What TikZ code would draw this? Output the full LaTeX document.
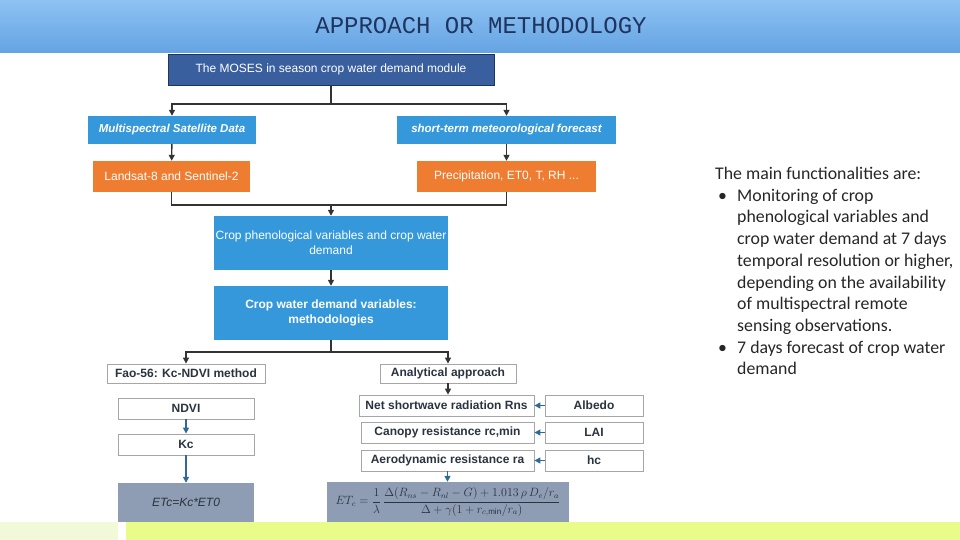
\documentclass[tikz,border=0pt]{standalone}
\usepackage{fontspec}
\setmainfont{Liberation Sans}
\newfontfamily\featfont{Carlito}
\newfontfamily\titlefont{Liberation Mono}
\usetikzlibrary{positioning,arrows.meta,calc}
\definecolor{bandtop}{HTML}{8EC2F3}
\definecolor{bandbot}{HTML}{64A3E2}
\definecolor{navy}{HTML}{3A5F9F}
\definecolor{navyline}{HTML}{1F3560}
\definecolor{skyb}{HTML}{3498DB}
\definecolor{orng}{HTML}{EE7C31}
\definecolor{slate}{HTML}{8E9CB4}
\definecolor{ink}{HTML}{2A3440}
\definecolor{wire}{HTML}{333333}
\definecolor{steel}{HTML}{2E6A95}
\definecolor{lime}{HTML}{E9FC8A}
\definecolor{palelime}{HTML}{F1F9D9}

\begin{document}
\begin{tikzpicture}[x=1pt,y=-1pt,
  blk/.style 2 args={minimum width=#1pt, minimum height=#2pt, inner sep=1pt, align=center},
  mainbox/.style={fill=navy, draw=navyline, line width=0.8pt, text=white, font=\fontsize{12}{14}\selectfont},
  srcbox/.style={fill=skyb, text=white, font=\fontsize{11.5}{13}\selectfont\bfseries\itshape},
  inbox/.style={fill=orng, text=white, font=\fontsize{12}{14}\selectfont},
  stepbox/.style={fill=skyb, text=white, font=\fontsize{12}{15}\selectfont},
  methbox/.style={fill=white, draw=gray!70, line width=0.8pt, text=ink, font=\fontsize{12}{14}\selectfont\bfseries},
  outbox/.style={fill=slate, text=ink},
  link/.style={draw=wire, line width=1.4pt},
  arr/.style={link, -{Triangle[length=6pt,width=6pt]}},
  barr/.style={draw=steel, line width=1.4pt, -{Triangle[length=6pt,width=6pt]}}]

  \useasboundingbox (0,0) rectangle (960,540);

  % title band
  \shade[top color=bandtop, bottom color=bandbot] (0,0) rectangle (960,53);
  \node[font=\titlefont\fontsize{24}{26}\selectfont, text=navyline] (title) at (481,26) {APPROACH OR METHODOLOGY};

  % bottom strip
  \fill[palelime] (0,522) rectangle (118,540);
  \fill[lime] (126,522) rectangle (960,540);

  % module and data sources
  \node[blk={326}{31}, mainbox] (moses) at (331,69.5) {The MOSES in season crop water demand module};
  \node[blk={168}{28}, srcbox] (msd) at (172,130) {Multispectral Satellite Data};
  \node[blk={219}{28}, srcbox] (stmf) at (506.5,130) {short-term meteorological forecast};
  \node[blk={157}{31}, inbox] (landsat) at (171.5,176.5) {Landsat-8 and Sentinel-2};
  \node[blk={179}{31}, inbox] (precip) at (506.5,176.5) {Precipitation, ET0, T, RH ...};

  % central chain
  \node[blk={234}{54}, stepbox] (phen) at (331,243) {Crop phenological variables and crop water\\demand};
  \node[blk={234}{54}, stepbox, font=\fontsize{12}{15}\selectfont\bfseries] (cwdv) at (331,313) {Crop water demand variables:\\methodologies};

  % the two methods
  \node[blk={158}{19}, methbox] (fao) at (186,373.5) {Fao-56: Kc-NDVI method};
  \node[blk={136}{19}, methbox] (anal) at (448,373.5) {Analytical approach};

  % Kc-NDVI branch
  \node[blk={136}{21}, methbox] (ndvi) at (186,408.5) {NDVI};
  \node[blk={136}{21}, methbox] (kc) at (186,444.5) {Kc};
  \node[blk={136}{39}, outbox, font=\fontsize{12}{14}\selectfont\itshape] (etc) at (186,502.5) {ETc=Kc*ET0};

  % analytical branch
  \node[blk={175}{21}, methbox] (rns) at (446.5,405.5) {Net shortwave radiation Rns};
  \node[blk={173}{21}, methbox] (rc) at (447.5,432.5) {Canopy resistance rc,min};
  \node[blk={173}{21}, methbox] (ra) at (447.5,460.5) {Aerodynamic resistance ra};
  \foreach \name/\y/\txt in {albedo/405.5/Albedo, lai/432.5/LAI, hc/460.5/hc}
    \node[blk={98}{21}, methbox] (\name) at (594,\y) {\txt};
  \node[blk={242}{40}, outbox] (eqn) at (448,502)
    {\fontsize{11.5}{13}\selectfont$\displaystyle ET_c=\frac{1}{\lambda}\,
      \frac{\Delta(R_{ns}-R_{nl}-G)+1.013\,\rho\,D_e/r_a}{\Delta+\gamma(1+r_{c,\min}/r_a)}$};

  % connectors
  \coordinate (split1) at (331,104);
  \coordinate (merge1) at (331,205);
  \coordinate (split2) at (331,352);
  \draw[link] (moses.south) -- (split1);
  \draw[arr] (split1) -| (msd.north);
  \draw[arr] (split1) -| (stmf.north);
  \draw[arr] (msd) -- (landsat);
  \draw[arr] (stmf) -- (precip);
  \draw[link] (landsat.south) |- (merge1);
  \draw[link] (precip.south) |- (merge1);
  \draw[arr] (merge1) -- (phen.north);
  \draw[arr] (phen) -- (cwdv);
  \draw[link] (cwdv.south) -- (split2);
  \draw[arr] (split2) -| (fao.north);
  \draw[arr] (split2) -| (anal.north);
  \draw[arr] (anal.south) -- (anal.south |- rns.north);
  \draw[barr] (ndvi) -- (kc);
  \draw[barr] (kc) -- (etc);
  \foreach \src/\dst in {albedo/rns, lai/rc, hc/ra}
    \draw[barr] (\src.west) -- (\dst.east);
  \draw[barr] (ra.south) -- (ra.south |- eqn.north);

  % functionalities
  \node[anchor=north west, inner sep=0pt, align=left, text=black!85,
        font=\featfont\fontsize{17.8}{21.7}\selectfont] (feat) at (715,167)
    {The main functionalities are:\\
     \hspace*{3pt}\makebox[19pt][l]{\textbullet}Monitoring of crop\\
     \hspace*{22pt}phenological variables and\\
     \hspace*{22pt}crop water demand at 7 days\\
     \hspace*{22pt}temporal resolution or higher,\\
     \hspace*{22pt}depending on the availability\\
     \hspace*{22pt}of multispectral remote\\
     \hspace*{22pt}sensing observations.\\
     \hspace*{3pt}\makebox[19pt][l]{\textbullet}7  days forecast of crop water\\
     \hspace*{22pt}demand};
\end{tikzpicture}
\end{document}
